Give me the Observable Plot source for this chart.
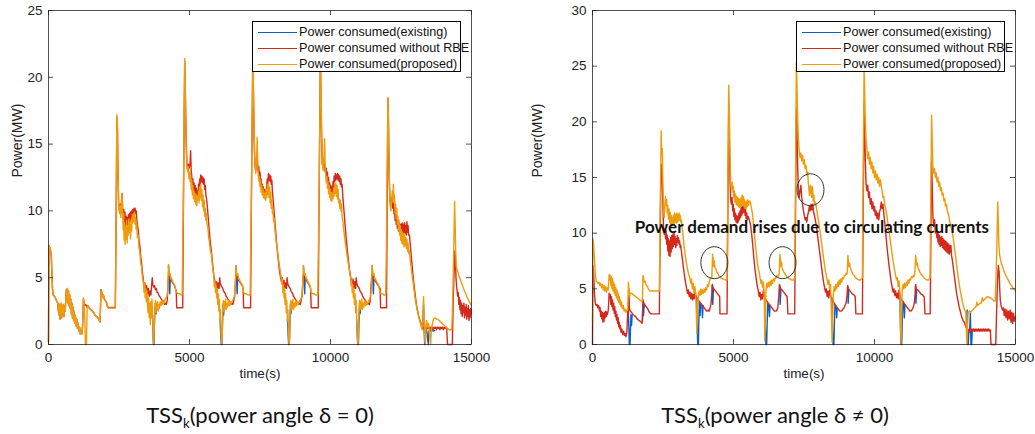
<!DOCTYPE html>
<html><head><meta charset="utf-8">
<script src="https://cdn.jsdelivr.net/npm/d3@7"></script>
<script src="https://cdn.jsdelivr.net/npm/@observablehq/plot@0.6"></script>
<style>
html,body{margin:0;padding:0;background:#fff;}
#wrap{position:relative;width:1035px;height:434px;overflow:hidden;font-family:"Liberation Sans",Arial,sans-serif;}
.panel{position:absolute;top:0;}
.legend{position:absolute;background:#fff;border:1px solid #000;box-sizing:border-box;width:209px;height:51px;font-size:12.6px;color:#111;}
.legend .row{position:absolute;left:0;width:100%;height:16px;}
.legend .sw{position:absolute;left:5px;top:8px;width:39px;height:0;border-top:1.5px solid;}
.legend .lab{position:absolute;left:46px;top:1px;line-height:14px;white-space:nowrap;}
.caption{position:absolute;top:400px;width:420px;text-align:center;font-family:Lato,"Open Sans",sans-serif;font-size:22px;color:#111;line-height:30px;white-space:nowrap;}
.caption sub{font-size:0.6em;vertical-align:-0.35em;line-height:0;}
</style></head>
<body><div id="wrap"></div>
<script>
// ---------- labels / ticks ----------
const seriesNames = ["Power consumed(existing)", "Power consumed without RBE", "Power consumed(proposed)"];
const seriesColors = ["#0b5ec9", "#d42a1c", "#ee9c0c"];
const xTicks = [0, 5000, 10000, 15000];
const leftYTicks = [0, 5, 10, 15, 20, 25];
const rightYTicks = [0, 5, 10, 15, 20, 25, 30];
const xLabel = "time(s)";
const yLabel = "Power(MW)";
const captionMain = "TSS";
const captionSub = "k";
const captionTails = ["(power angle δ = 0)", "(power angle δ ≠ 0)"];
const annotationText = [{t: 7780, v: 10.5, label: "Power demand rises due to circulating currents"}];
const annotationCircles = [{t: 4320, v: 7.35}, {t: 6740, v: 7.35}, {t: 7730, v: 13.9}];

// ---------- left panel (δ = 0) ----------
const leftProposed = [
[0,0.2],[15,7.4],[60,7.2],[100,6.6],[140,4.2],[170,3.7],[220,3.6],[260,3.4],[300,3.2],[330,3.1],[350,2.5],[365,3.0],[380,2.2],[395,3.0],[410,1.9],[425,2.9],[440,2.4],[455,3.1],[470,2.0],[490,2.8],[510,2.3],[530,3.0],[550,2.1],[570,2.8],[590,2.5],[610,3.2],[630,4.1],[650,3.4],[670,4.2],[690,3.1],[710,4.0],[730,2.9],[750,3.7],[770,2.7],[790,3.4],[810,2.3],[830,3.1],[850,2.0],[870,2.8],[890,1.8],[910,2.5],[930,1.6],[950,2.2],[975,1.4],[1000,1.9],[1025,1.2],[1050,1.6],[1075,1.0],[1100,1.3],[1130,0.8],[1160,1.1],[1190,0.8],[1210,1.5],[1240,3.5],[1265,3.0],[1285,2.0],[1310,0],[1345,0],[1370,2.8],[1400,2.9],[1450,2.7],[1500,2.6],[1550,2.5],[1600,2.4],[1650,2.2],[1700,2.1],[1750,2.0],[1800,1.8],[1830,1.7],[1860,4.0],[1890,3.9],[1920,3.5],[1950,3.7],[1980,3.4],[2010,3.3],[2050,3.2],[2080,2.9],[2110,2.8],[2370,2.8],
[2400,10],[2425,17.2],[2445,16.5],[2465,13],[2490,10.2],[2520,9.8],[2545,10.4],[2565,9.5],[2590,10.6],[2610,11.3],[2630,9.6],[2650,8.6],[2665,9.8],[2680,7.8],[2700,9.0],[2715,7.5],[2730,8.8],[2750,7.9],[2770,9.3],[2790,7.6],[2810,8.9],[2830,8.2],[2850,9.4],[2870,8.4],[2890,9.0],[2910,7.9],[2930,9.3],[2950,8.5],[2970,9.7],[2990,9.1],[3010,9.8],[3030,9.2],[3050,9.9],[3070,9.0],[3090,9.5],[3110,8.6],[3130,9.0],[3150,8.0],[3180,8.2],[3210,7.2],[3240,6.9],[3270,6.1],[3300,5.8],[3330,5.0],[3360,4.7],[3390,3.9],[3410,4.6],[3430,3.5],[3450,4.2],[3470,3.2],[3490,4.0],[3510,3.0],[3530,2.4],[3550,3.5],[3570,2.0],[3590,3.1],[3610,1.5],[3630,3.2],[3650,2.0],[3670,3.4],[3690,2.2],[3710,0.6],[3730,0],[3750,1.2],[3770,2.5],[3790,3.3],[3810,2.4],[3830,3.1],[3850,2.6],[3870,3.2],[3890,2.5],[3910,3.0],[3930,2.7],[3960,3.2],[3990,2.9],[4020,3.3],[4050,3.0],[4080,3.3],[4110,3.1],[4140,3.4],[4170,3.5],[4200,3.6],[4230,4.0],[4255,6.0],[4275,5.6],[4295,5.2],[4315,5.3],[4340,4.9],[4370,4.9],[4400,4.7],[4430,4.6],[4460,4.5],[4490,4.3],[4520,4.0],[4550,3.9],[4600,3.8],[4650,3.8],[4700,3.7],[4740,3.7],
[4790,12],[4830,21.4],[4850,19.5],[4880,15],[4910,13.2],[4940,12.9],[4960,13.3],[4980,12.4],[5000,12.9],[5020,12.2],[5040,12.8],[5060,11.6],[5080,12.3],[5100,11.2],[5120,11.9],[5140,10.9],[5160,11.5],[5180,10.7],[5200,11.3],[5220,10.5],[5240,11.2],[5260,10.4],[5280,11.0],[5300,10.8],[5320,11.5],[5340,10.6],[5360,11.8],[5380,11.0],[5400,12.0],[5420,10.8],[5440,11.6],[5460,10.3],[5480,11.2],[5500,10.0],[5520,10.8],[5540,9.6],[5560,10.2],[5580,9.3],[5600,9.8],[5620,9.0],[5650,8.8],[5680,8.0],[5710,7.6],[5740,7.0],[5770,6.8],[5800,6.2],[5830,5.6],[5860,5.2],[5880,4.3],[5900,4.8],[5920,3.9],[5940,4.5],[5960,3.5],[5980,4.2],[6000,3.0],[6020,3.8],[6040,2.5],[6060,3.4],[6080,1.8],[6100,2.6],[6120,0.8],[6140,0],[6160,0.5],[6180,2.4],[6200,3.3],[6220,2.5],[6240,3.2],[6260,2.7],[6280,3.4],[6300,2.6],[6320,3.1],[6350,2.8],[6380,3.3],[6410,2.9],[6440,3.2],[6470,3.0],[6500,3.2],[6530,3.3],[6560,3.4],[6590,3.6],[6620,4.2],[6645,5.9],[6665,5.5],[6690,5.2],[6710,5.3],[6740,4.9],[6770,4.9],[6800,4.7],[6830,4.6],[6860,4.5],[6890,4.3],[6920,3.9],[6960,3.8],[7020,3.8],[7080,3.7],[7150,3.7],
[7200,12],[7245,21.6],[7265,19.8],[7290,16],[7320,13.5],[7350,12.8],[7380,14.0],[7400,15.5],[7420,13.5],[7440,12.6],[7460,12.2],[7480,12.6],[7500,11.8],[7520,12.3],[7540,11.4],[7560,11.9],[7580,11.2],[7600,11.7],[7620,11.0],[7640,11.5],[7660,10.9],[7680,11.3],[7700,10.8],[7720,11.6],[7740,11.0],[7760,12.0],[7780,11.2],[7800,12.1],[7820,11.0],[7840,11.8],[7860,10.6],[7880,11.4],[7900,10.2],[7920,10.8],[7940,9.8],[7960,10.2],[7980,9.2],[8000,9.5],[8030,8.6],[8060,8.0],[8090,7.4],[8120,7.0],[8150,6.5],[8180,6.0],[8210,5.6],[8240,5.2],[8270,4.5],[8290,4.9],[8310,3.9],[8330,4.5],[8350,3.5],[8370,4.2],[8390,3.0],[8410,3.8],[8430,2.4],[8450,3.3],[8470,1.8],[8490,2.6],[8510,0.8],[8530,0],[8550,0.4],[8570,2.4],[8590,3.3],[8610,2.6],[8630,3.2],[8650,2.7],[8670,3.4],[8690,2.6],[8710,3.1],[8740,2.8],[8770,3.3],[8800,2.9],[8830,3.2],[8860,3.0],[8890,3.2],[8920,3.3],[8950,3.4],[8980,3.6],[9010,4.2],[9040,5.9],[9060,5.5],[9085,5.2],[9105,5.3],[9135,4.9],[9165,4.9],[9195,4.7],[9225,4.6],[9255,4.5],[9285,4.3],[9315,3.9],[9355,3.8],[9415,3.8],[9475,3.7],[9550,3.7],
[9600,12],[9640,21.6],[9660,19.8],[9685,16],[9710,13.6],[9740,13.0],[9770,14.2],[9790,15.4],[9810,13.5],[9830,12.7],[9850,12.1],[9870,12.6],[9890,11.7],[9910,12.2],[9930,11.3],[9950,11.9],[9970,11.0],[9990,11.6],[10010,10.8],[10030,11.4],[10050,10.7],[10070,11.3],[10090,10.9],[10110,11.7],[10130,11.1],[10150,12.0],[10170,11.3],[10190,12.1],[10210,11.1],[10230,11.9],[10250,10.9],[10270,11.6],[10290,10.6],[10310,10.9],[10330,10.2],[10350,10.8],[10370,10.0],[10390,10.5],[10410,9.6],[10440,9.2],[10470,8.6],[10500,8.0],[10530,7.5],[10560,7.1],[10590,6.6],[10620,6.2],[10650,5.8],[10680,5.4],[10710,5.0],[10730,4.4],[10750,4.8],[10770,3.9],[10790,4.5],[10810,3.5],[10830,4.2],[10850,3.0],[10870,3.8],[10890,2.4],[10910,3.3],[10930,1.8],[10950,0.8],[10970,0],[10990,0.4],[11010,2.4],[11030,3.3],[11050,2.6],[11070,3.2],[11090,2.7],[11110,3.4],[11130,2.6],[11150,3.1],[11180,2.8],[11210,3.3],[11240,2.9],[11270,3.2],[11300,3.0],[11330,3.2],[11360,3.3],[11390,3.4],[11420,3.6],[11450,4.2],[11475,5.9],[11495,5.5],[11520,5.2],[11540,5.3],[11570,4.9],[11600,4.9],[11630,4.7],[11660,4.6],[11690,4.5],[11720,4.3],[11750,3.9],[11790,3.8],[11850,3.8],[11900,3.7],[11960,3.7],
[11995,10],[12035,18.5],[12055,17],[12080,13],[12110,10.5],[12140,10.0],[12170,10.8],[12190,11.5],[12210,10.9],[12230,12.0],[12250,10.6],[12270,11.2],[12290,9.8],[12310,10.5],[12330,9.4],[12350,10.2],[12370,9.0],[12390,9.6],[12410,8.6],[12430,9.3],[12450,8.2],[12470,8.9],[12490,7.8],[12510,8.6],[12530,7.6],[12550,8.4],[12570,7.5],[12590,8.3],[12610,7.3],[12630,8.2],[12650,7.4],[12670,8.0],[12690,7.2],[12710,7.9],[12730,7.0],[12750,7.6],[12770,6.8],[12800,7.0],[12830,6.2],[12860,5.8],[12890,5.2],[12920,4.8],[12950,4.3],[12980,3.8],[13010,3.3],[13040,3.0],[13070,2.6],[13100,2.4],[13130,2.0],[13160,1.8],[13190,1.6],[13220,1.3],[13250,1.1],[13280,2.0],[13300,3.6],[13320,2.0],[13345,0.3],[13365,0],[13385,1.4],[13410,1.8],[13440,1.3],[13470,1.6],[13500,1.2],[13530,0.5],[13550,0],[13570,0.8],[13600,1.4],[13650,1.9],[13700,2.0],[13750,1.9],[13800,1.9],[13850,1.8],[13900,1.7],[13950,1.6],[14000,1.5],[14050,1.4],[14100,1.3],[14150,1.2],[14200,1.1],[14250,1.1],[14300,1.1],[14330,3],[14360,6],[14400,10.7],[14420,9.0],[14440,7.0],[14460,5.8],[14490,5.6],[14520,5.4],[14560,5.1],[14600,4.9],[14650,4.6],[14700,4.3],[14750,4.0],[14800,3.8],[14850,3.5],[14900,3.3],[14950,3.1],[15000,2.9]
];
const leftWithoutRBE = [
[0,0.2],[15,7.4],[60,7.2],[100,6.6],[140,4.2],[170,3.7],[220,3.6],[260,3.4],[300,3.2],[330,3.1],[350,2.5],[365,3.0],[380,2.2],[395,3.0],[410,1.9],[425,2.9],[440,2.4],[455,3.1],[470,2.0],[490,2.8],[510,2.3],[530,3.0],[550,2.1],[570,2.8],[590,2.5],[610,3.2],[630,4.1],[650,3.4],[670,4.2],[690,3.1],[710,4.0],[730,2.9],[750,3.7],[770,2.7],[790,3.4],[810,2.3],[830,3.1],[850,2.0],[870,2.8],[890,1.8],[910,2.5],[930,1.6],[950,2.2],[975,1.4],[1000,1.9],[1025,1.2],[1050,1.6],[1075,1.0],[1100,1.3],[1130,0.8],[1160,1.1],[1190,0.8],[1210,1.5],[1240,3.4],[1265,3.0],[1285,2.9],[1310,3.0],[1345,2.9],[1370,2.8],[1400,2.9],[1450,2.7],[1500,2.6],[1550,2.5],[1600,2.4],[1650,2.2],[1700,2.1],[1750,2.0],[1800,1.8],[1830,1.7],[1860,4.1],[1890,3.9],[1920,3.6],[1950,3.7],[1980,3.4],[2010,3.3],[2050,3.2],[2080,2.9],[2110,2.75],[2370,2.75],
[2400,10],[2425,17.0],[2445,16],[2465,12.5],[2490,10.3],[2520,10.0],[2545,10.5],[2565,9.8],[2590,10.8],[2610,11.3],[2630,10.2],[2650,9.4],[2670,10.1],[2690,9.2],[2710,9.9],[2730,8.9],[2750,9.6],[2770,8.7],[2790,9.5],[2810,8.8],[2830,9.7],[2850,9.0],[2870,9.8],[2890,9.2],[2910,9.9],[2930,9.4],[2950,10.0],[2970,9.6],[2990,10.1],[3010,9.8],[3030,10.2],[3050,9.9],[3070,10.2],[3090,9.8],[3110,10.0],[3130,9.4],[3150,9.0],[3180,8.6],[3210,7.8],[3240,7.4],[3270,6.6],[3300,6.1],[3330,5.4],[3360,4.9],[3390,4.3],[3420,4.6],[3450,4.0],[3480,4.4],[3510,3.8],[3540,4.2],[3570,3.6],[3600,4.0],[3630,3.7],[3660,4.5],[3680,5.0],[3700,4.5],[3730,4.3],[3760,4.4],[3790,4.1],[3820,4.2],[3850,3.9],[3880,3.9],[3910,3.7],[3940,3.6],[3970,3.5],[4000,3.4],[4030,3.3],[4060,3.2],[4090,3.1],[4120,3.0],[4150,3.1],[4180,3.0],[4210,3.3],[4240,4.5],[4260,5.4],[4290,5.0],[4320,5.0],[4350,4.8],[4380,4.7],[4410,4.6],[4440,4.5],[4470,4.4],[4500,4.2],[4530,4.0],[4545,2.75],[4760,2.75],
[4790,12],[4830,21.2],[4850,19],[4880,15.5],[4910,13.5],[4940,13.0],[4960,13.5],[4990,13.2],[5020,13.6],[5040,14.5],[5060,13.0],[5080,12.6],[5100,11.8],[5120,12.4],[5140,11.5],[5160,12.1],[5180,11.2],[5200,11.9],[5220,11.0],[5240,11.7],[5260,10.9],[5280,11.5],[5300,11.2],[5320,12.0],[5340,11.6],[5360,12.4],[5380,12.0],[5400,12.7],[5420,12.2],[5440,12.6],[5460,12.1],[5480,12.5],[5500,12.0],[5520,12.4],[5540,11.6],[5560,11.9],[5580,11.2],[5600,11.0],[5630,10.4],[5660,9.6],[5690,8.8],[5720,8.0],[5750,7.4],[5780,6.9],[5810,6.2],[5840,5.6],[5870,5.0],[5900,4.8],[5930,4.3],[5960,4.7],[5990,4.1],[6020,4.6],[6050,4.2],[6070,5.0],[6090,4.6],[6120,4.4],[6150,4.3],[6180,4.2],[6210,4.0],[6240,3.9],[6270,3.8],[6300,3.6],[6330,3.5],[6360,3.4],[6390,3.3],[6420,3.2],[6450,3.1],[6480,3.0],[6510,3.1],[6540,3.0],[6570,3.3],[6600,3.6],[6625,4.5],[6645,5.3],[6665,5.0],[6690,5.0],[6720,4.9],[6750,4.8],[6780,4.7],[6810,4.6],[6840,4.5],[6870,4.4],[6900,4.2],[6920,2.75],[7165,2.75],
[7200,12],[7245,21.3],[7265,19],[7290,15.5],[7320,13.5],[7350,13.0],[7380,13.8],[7400,14.2],[7420,13.2],[7440,12.9],[7460,13.3],[7480,12.5],[7500,12.9],[7520,12.0],[7540,12.4],[7560,11.6],[7580,12.0],[7600,11.3],[7620,11.8],[7640,11.1],[7660,11.6],[7680,11.0],[7700,11.5],[7720,11.2],[7740,12.0],[7760,12.4],[7780,12.0],[7800,12.8],[7820,12.3],[7840,12.7],[7860,12.2],[7880,12.6],[7900,12.0],[7920,12.3],[7940,11.4],[7960,11.0],[7990,10.2],[8020,9.4],[8050,8.6],[8080,7.8],[8110,7.1],[8140,6.5],[8170,5.9],[8200,5.4],[8230,5.0],[8260,4.7],[8290,5.0],[8320,4.3],[8350,4.8],[8380,4.2],[8410,4.6],[8440,4.2],[8460,5.0],[8480,4.6],[8510,4.4],[8540,4.3],[8570,4.2],[8600,4.0],[8630,3.9],[8660,3.8],[8690,3.6],[8720,3.5],[8750,3.4],[8780,3.3],[8810,3.2],[8840,3.1],[8870,3.0],[8900,3.1],[8930,3.0],[8960,3.3],[8990,3.6],[9015,4.5],[9040,5.3],[9060,5.0],[9085,5.0],[9115,4.9],[9145,4.8],[9175,4.7],[9205,4.6],[9235,4.5],[9265,4.4],[9295,4.2],[9315,2.75],[9565,2.75],
[9600,12],[9640,21.3],[9660,19],[9685,15.5],[9710,13.5],[9740,13.2],[9770,13.9],[9790,13.4],[9810,13.0],[9830,12.8],[9850,13.2],[9870,12.4],[9890,12.9],[9910,12.0],[9930,12.5],[9950,11.6],[9970,12.1],[9990,11.3],[10010,11.9],[10030,11.2],[10050,11.8],[10070,11.4],[10090,12.2],[10110,11.8],[10130,12.6],[10150,12.2],[10170,12.8],[10190,12.3],[10210,12.7],[10230,12.4],[10250,12.8],[10270,12.3],[10290,12.7],[10310,12.2],[10330,12.6],[10350,12.0],[10370,12.4],[10390,11.8],[10410,12.0],[10440,11.0],[10470,10.2],[10500,9.4],[10530,8.6],[10560,7.9],[10590,7.2],[10620,6.6],[10650,6.0],[10680,5.5],[10710,5.1],[10740,4.8],[10770,4.4],[10800,4.9],[10830,4.2],[10860,4.7],[10890,4.2],[10910,5.0],[10930,4.6],[10960,4.4],[10990,4.3],[11020,4.2],[11050,4.0],[11080,3.9],[11110,3.8],[11140,3.6],[11170,3.5],[11200,3.4],[11230,3.3],[11260,3.2],[11290,3.1],[11320,3.0],[11350,3.1],[11380,3.0],[11410,3.3],[11440,4.5],[11470,5.3],[11490,5.0],[11515,5.0],[11545,4.9],[11575,4.8],[11605,4.7],[11635,4.6],[11665,4.5],[11695,4.4],[11725,4.3],[11760,4.2],[11775,2.75],[11985,2.75],
[12035,18.4],[12055,16.5],[12080,12.5],[12110,10.8],[12140,10.4],[12170,11.0],[12190,10.5],[12210,10.2],[12230,10.6],[12250,9.8],[12270,10.2],[12290,9.3],[12310,9.9],[12330,9.0],[12350,9.6],[12370,8.7],[12390,9.3],[12410,8.5],[12430,9.1],[12450,8.4],[12470,9.0],[12490,8.3],[12510,9.0],[12530,8.4],[12550,9.1],[12570,8.3],[12590,9.0],[12610,8.4],[12630,9.1],[12650,8.3],[12670,8.9],[12690,8.2],[12710,9.2],[12730,8.4],[12750,8.9],[12770,8.2],[12800,8.2],[12830,7.4],[12860,6.7],[12890,6.0],[12920,5.3],[12950,4.7],[12980,4.1],[13010,3.6],[13040,3.1],[13070,2.7],[13100,2.4],[13130,2.1],[13160,1.9],[13190,1.7],[13220,1.5],[13250,1.3],[13280,1.2],[13310,1.3],[13340,1.1],[13370,1.3],[13400,1.1],[13430,1.3],[13460,1.2],[13490,1.3],[13520,1.1],[13550,1.3],[13580,1.2],[13610,1.3],[13640,1.1],[13670,1.3],[13700,1.2],[13730,1.3],[13760,1.1],[13790,1.3],[13820,1.2],[13850,1.3],[13880,1.1],[13910,1.3],[13940,1.2],[13970,1.3],[14000,1.1],[14030,1.3],[14060,1.2],[14090,1.3],[14120,1.2],[14150,0],[14320,0],[14360,4],[14410,7.0],[14430,6.5],[14450,5.0],[14470,4.4],[14490,4.0],[14510,3.6],[14530,3.9],[14550,3.0],[14570,3.5],[14590,2.6],[14610,3.3],[14630,2.3],[14650,3.1],[14670,2.1],[14690,2.9],[14710,2.4],[14730,3.1],[14750,2.0],[14770,2.8],[14790,2.2],[14810,3.0],[14830,1.9],[14850,2.7],[14870,2.1],[14890,2.9],[14910,1.8],[14930,2.6],[14950,2.0],[14970,2.7],[15000,2.3]
];
const leftExisting = [
[3690,2.2],[3705,1.0],[3720,0],[3740,0],[3755,1.5],[3775,2.6],[3795,3.1],[3815,2.3],[3835,3.0],[3850,null],
[4255,5.9],[4280,5.0],[4300,3.8],[4320,5.1],[4345,4.9],[4360,null],
[6085,1.9],[6105,0.8],[6125,0],[6150,0],[6170,1.6],[6190,3.0],[6210,2.2],[6230,3.1],[6245,null],
[6645,5.9],[6670,4.9],[6690,3.8],[6710,5.1],[6735,4.9],[6750,null],
[8475,1.9],[8495,0.8],[8515,0],[8540,0],[8560,1.6],[8580,3.0],[8600,2.3],[8620,3.1],[8635,null],
[9040,5.9],[9065,4.9],[9085,3.8],[9105,5.1],[9130,4.9],[9145,null],
[10925,1.9],[10945,0.8],[10965,0],[10990,0],[11010,1.6],[11030,3.0],[11050,2.3],[11070,3.1],[11085,null],
[11475,5.9],[11500,4.9],[11520,3.8],[11540,5.1],[11565,4.9],[11580,null],
[13250,1.2],[13280,2.2],[13300,3.0],[13320,1.0],[13340,0],[13360,0.8],[13390,1.2],[13420,0.9],[13450,0.3],[13470,0],[13490,1.0],[13520,1.1],[13560,1.0],[13600,1.1],[13650,1.0],[13700,1.05]
];

// ---------- right panel (δ ≠ 0) ----------
const rightProposed = [
[0,2.1],[15,9.5],[40,9.0],[70,7.6],[100,6.3],[130,5.7],[170,5.6],[200,5.5],[230,5.6],[260,5.3],[290,5.5],[320,5.1],[350,5.4],[380,4.9],[410,5.3],[440,4.8],[470,5.2],[500,4.7],[530,5.1],[560,4.9],[590,6.3],[610,5.8],[630,6.2],[650,5.3],[670,6.1],[690,5.0],[710,5.9],[730,4.8],[750,5.6],[770,4.6],[790,5.4],[810,4.4],[830,5.1],[850,4.2],[870,4.9],[890,4.0],[910,4.6],[930,3.8],[950,4.3],[970,3.6],[990,4.0],[1010,3.4],[1030,3.8],[1060,3.2],[1090,3.5],[1120,3.0],[1150,3.2],[1180,2.9],[1210,3.0],[1250,3.2],[1275,5.6],[1295,4.9],[1315,4.3],[1340,4.6],[1380,4.6],[1430,4.5],[1480,4.4],[1530,4.3],[1580,4.2],[1630,4.1],[1680,4.0],[1730,3.9],[1770,3.9],[1790,6.2],[1810,6.0],[1830,5.6],[1860,5.7],[1890,5.4],[1920,5.3],[1950,5.2],[1980,5.0],[2010,4.9],[2040,4.8],[2370,4.8],
[2400,12],[2435,19.2],[2455,17.0],[2475,17.6],[2495,14.5],[2520,12.0],[2545,11.4],[2570,12.6],[2590,13.3],[2610,12.5],[2630,13.0],[2650,11.8],[2670,12.5],[2690,11.3],[2710,12.2],[2730,11.0],[2750,11.9],[2770,10.8],[2790,11.6],[2810,10.6],[2830,11.4],[2850,10.7],[2870,11.6],[2890,10.8],[2910,11.8],[2930,11.0],[2950,11.7],[2970,10.9],[2990,11.8],[3010,11.0],[3030,11.7],[3050,11.1],[3070,11.8],[3090,11.2],[3110,11.6],[3130,11.0],[3150,11.2],[3200,10.0],[3250,8.8],[3300,7.8],[3350,7.0],[3400,6.4],[3450,6.0],[3480,5.5],[3510,5.9],[3540,5.0],[3570,5.5],[3600,4.6],[3630,5.2],[3660,4.4],[3680,3.0],[3700,1.0],[3720,2.6],[3750,4.3],[3780,4.8],[3810,4.4],[3840,5.0],[3870,4.5],[3900,4.9],[3930,4.6],[3960,5.0],[3990,4.7],[4020,5.1],[4050,4.9],[4080,5.4],[4110,5.2],[4140,5.6],[4170,5.9],[4200,6.0],[4230,6.0],[4260,8.1],[4280,7.6],[4300,7.0],[4320,7.5],[4340,6.9],[4370,6.8],[4400,6.5],[4430,6.5],[4460,6.3],[4500,6.1],[4550,6.0],[4620,5.9],[4700,5.8],[4770,5.8],
[4800,14],[4830,23.3],[4850,21.5],[4875,17.0],[4900,14.5],[4925,14.0],[4950,14.6],[4970,13.7],[4990,14.2],[5010,13.2],[5030,13.8],[5050,12.8],[5070,13.5],[5090,12.6],[5110,13.3],[5130,12.5],[5150,13.2],[5170,12.4],[5190,13.1],[5210,12.3],[5230,13.0],[5250,12.4],[5270,13.2],[5290,12.5],[5310,13.4],[5330,12.6],[5350,13.3],[5370,12.4],[5390,13.0],[5410,12.2],[5430,12.8],[5450,12.2],[5470,12.9],[5490,12.4],[5510,13.0],[5530,12.5],[5550,12.8],[5580,12.9],[5610,12.6],[5640,12.2],[5670,11.8],[5700,11.0],[5730,10.2],[5760,9.4],[5790,8.6],[5820,7.9],[5850,7.3],[5880,6.8],[5910,6.5],[5940,6.0],[5970,5.5],[6000,5.8],[6030,5.1],[6060,5.6],[6090,4.5],[6110,0.3],[6130,2.0],[6150,4.8],[6180,5.5],[6210,5.1],[6240,5.6],[6270,5.2],[6300,5.7],[6330,5.3],[6360,5.8],[6390,5.5],[6420,5.9],[6450,5.7],[6480,6.0],[6510,6.0],[6540,6.2],[6570,6.1],[6600,6.2],[6620,6.4],[6645,8.1],[6665,7.6],[6685,7.0],[6705,7.4],[6725,6.8],[6755,6.7],[6785,6.5],[6815,6.4],[6845,6.3],[6880,6.1],[6920,6.0],[6980,5.9],[7060,5.8],[7140,5.8],[7170,6.0],
[7200,15],[7228,25.3],[7245,24],[7270,21],[7300,18.5],[7330,17.4],[7360,16.8],[7390,17.2],[7420,16.5],[7450,17.0],[7480,16.2],[7510,16.6],[7540,15.8],[7570,16.1],[7600,15.2],[7630,15.5],[7650,14.6],[7670,14.1],[7690,13.4],[7710,13.9],[7730,14.3],[7750,13.6],[7770,13.2],[7790,14.2],[7810,13.8],[7830,12.9],[7850,13.4],[7870,12.6],[7900,12.8],[7930,12.4],[7960,12.0],[7990,11.5],[8020,11.0],[8050,10.5],[8080,10.0],[8110,9.4],[8140,8.8],[8170,8.2],[8200,7.7],[8230,7.1],[8260,6.6],[8290,6.2],[8320,5.8],[8350,5.4],[8380,5.8],[8410,5.0],[8440,5.4],[8470,3.0],[8495,0.2],[8515,2.0],[8540,4.5],[8570,5.2],[8600,4.8],[8630,5.4],[8660,5.0],[8690,5.6],[8720,5.2],[8750,5.8],[8780,5.4],[8810,5.9],[8840,5.6],[8870,6.0],[8900,5.9],[8930,6.2],[8960,6.2],[8990,6.4],[9020,6.3],[9035,6.5],[9055,8.0],[9075,7.4],[9095,7.0],[9115,7.3],[9140,6.9],[9170,6.7],[9200,6.5],[9240,6.3],[9280,6.2],[9320,6.0],[9380,5.9],[9440,5.8],[9500,5.8],[9570,6.0],
[9600,16],[9630,24.6],[9650,23],[9675,20],[9700,18.5],[9730,17.6],[9760,16.7],[9790,17.3],[9820,16.2],[9850,16.8],[9880,15.8],[9910,16.4],[9940,15.4],[9970,16.0],[10000,15.0],[10030,15.6],[10060,14.8],[10090,15.3],[10120,14.5],[10150,15.0],[10180,14.2],[10210,14.8],[10240,14.2],[10270,13.8],[10300,13.2],[10330,13.3],[10360,12.6],[10390,12.3],[10420,11.9],[10450,11.4],[10480,10.8],[10510,10.2],[10540,9.8],[10570,9.2],[10600,8.6],[10630,8.0],[10660,7.5],[10690,7.0],[10720,6.6],[10750,6.2],[10780,5.8],[10810,6.0],[10840,5.2],[10870,5.7],[10900,4.8],[10920,2.5],[10940,0.1],[10960,2.2],[10980,4.8],[11010,5.4],[11040,5.0],[11070,5.5],[11100,5.1],[11130,5.6],[11160,5.3],[11190,5.8],[11220,5.5],[11250,5.9],[11280,5.8],[11310,6.1],[11340,6.0],[11370,6.2],[11400,6.1],[11430,6.4],[11460,8.0],[11480,7.5],[11500,7.1],[11520,7.3],[11545,6.9],[11575,6.7],[11610,6.5],[11650,6.3],[11700,6.2],[11750,6.0],[11800,5.9],[11860,5.8],[11920,5.8],[11970,6.0],
[12000,14],[12025,20.6],[12045,18.5],[12070,16.0],[12100,15.4],[12130,15.8],[12160,15.0],[12190,15.4],[12220,14.6],[12250,15.0],[12280,14.2],[12310,14.6],[12340,13.8],[12370,14.1],[12400,13.4],[12430,13.6],[12460,12.9],[12490,13.1],[12520,12.4],[12550,12.6],[12580,12.0],[12610,11.8],[12640,11.5],[12670,11.0],[12700,10.8],[12730,10.4],[12760,10.1],[12790,9.6],[12820,9.0],[12850,8.4],[12880,7.8],[12910,7.2],[12940,6.6],[12970,6.0],[13000,5.5],[13030,5.0],[13060,4.6],[13090,4.2],[13120,3.8],[13150,3.5],[13180,3.2],[13210,3.0],[13240,2.8],[13260,1.0],[13280,0],[13300,1.8],[13320,2.9],[13360,3.0],[13400,2.9],[13440,3.0],[13480,3.1],[13520,3.2],[13560,3.3],[13600,3.4],[13630,3.8],[13660,3.5],[13700,3.6],[13740,3.7],[13780,3.7],[13820,4.2],[13850,3.9],[13880,4.0],[13920,4.1],[13960,4.2],[14000,4.3],[14040,4.3],[14080,4.2],[14120,4.2],[14160,4.1],[14200,4.0],[14240,3.9],[14280,3.9],[14310,6],[14340,9.0],[14370,12.8],[14390,11.0],[14410,9.0],[14440,8.0],[14470,7.6],[14500,7.3],[14540,7.0],[14580,6.7],[14620,6.4],[14660,6.2],[14700,6.0],[14740,5.8],[14780,5.6],[14820,5.4],[14860,5.3],[14900,5.1],[14950,5.0],[15000,4.8]
];
const rightWithoutRBE = [
[0,0],[15,7.1],[40,6.4],[70,4.5],[100,3.7],[130,3.5],[160,3.6],[190,3.3],[220,3.5],[250,3.0],[270,3.3],[290,2.5],[310,3.0],[330,2.3],[350,2.9],[370,2.0],[390,2.8],[410,2.1],[430,2.9],[450,2.4],[470,3.0],[490,2.5],[510,2.9],[530,2.7],[560,3.1],[590,4.6],[610,4.2],[630,4.5],[650,3.6],[670,4.3],[690,3.4],[710,4.0],[730,3.1],[750,3.7],[770,2.8],[790,3.4],[810,2.5],[830,3.0],[850,2.2],[870,2.7],[890,1.9],[910,2.4],[930,1.6],[950,2.0],[970,1.4],[990,1.7],[1010,1.1],[1040,1.4],[1070,0.9],[1100,1.2],[1130,0.8],[1160,1.0],[1190,0.7],[1220,1.2],[1250,3.0],[1270,2.6],[1290,5.0],[1310,3.2],[1340,3.0],[1380,2.9],[1430,2.7],[1480,2.6],[1530,2.5],[1580,2.3],[1630,2.2],[1680,2.1],[1730,2.0],[1760,1.9],[1790,4.0],[1810,3.8],[1840,3.6],[1870,3.5],[1900,3.4],[1930,3.3],[1960,3.2],[1990,3.0],[2020,2.9],[2050,2.8],[2080,2.75],[2370,2.75],
[2400,10],[2435,16.2],[2455,14.5],[2475,15.0],[2495,12.5],[2520,10.5],[2545,9.9],[2570,10.4],[2590,9.5],[2610,10.2],[2630,9.0],[2650,9.8],[2670,8.4],[2690,9.5],[2710,8.0],[2730,9.3],[2750,7.9],[2770,9.6],[2790,8.3],[2810,9.8],[2830,8.6],[2850,9.9],[2870,8.8],[2890,10.0],[2910,9.0],[2930,9.7],[2950,8.7],[2970,9.5],[2990,8.9],[3010,9.8],[3030,9.2],[3050,9.6],[3070,9.0],[3090,9.3],[3110,8.7],[3130,8.9],[3160,8.2],[3190,7.6],[3220,7.0],[3250,6.4],[3280,5.9],[3310,5.4],[3340,5.0],[3370,4.6],[3400,4.9],[3430,4.3],[3460,4.7],[3490,4.1],[3520,4.6],[3550,4.0],[3580,4.5],[3610,4.1],[3640,4.9],[3660,4.5],[3690,4.2],[3720,4.1],[3750,4.0],[3780,3.9],[3810,3.8],[3840,3.7],[3870,3.6],[3900,3.5],[3930,3.4],[3960,3.3],[3990,3.2],[4020,3.1],[4050,3.0],[4080,3.0],[4110,3.1],[4140,3.0],[4170,3.3],[4200,3.6],[4230,4.5],[4250,5.4],[4275,5.1],[4300,5.0],[4330,4.9],[4360,4.8],[4390,4.7],[4420,4.6],[4450,4.5],[4480,4.4],[4510,4.3],[4520,2.75],[4770,2.75],
[4800,12],[4830,21.2],[4850,19],[4875,15],[4900,13.0],[4925,12.6],[4950,13.2],[4970,12.0],[4990,12.6],[5010,11.5],[5030,12.2],[5050,11.2],[5070,11.8],[5090,11.0],[5110,11.6],[5130,10.9],[5150,11.5],[5170,11.0],[5190,11.8],[5210,11.2],[5230,12.0],[5250,11.4],[5270,12.3],[5290,11.6],[5310,12.4],[5330,11.8],[5350,12.5],[5370,11.9],[5390,12.4],[5410,11.6],[5430,12.1],[5450,11.3],[5470,11.8],[5490,11.2],[5520,11.5],[5550,11.3],[5600,10.8],[5640,10.0],[5680,9.0],[5720,7.8],[5760,6.8],[5800,6.0],[5840,5.3],[5880,4.8],[5910,4.3],[5940,4.7],[5970,4.0],[6000,4.5],[6030,4.1],[6060,4.9],[6090,4.4],[6120,4.1],[6150,4.0],[6180,3.9],[6210,3.8],[6240,3.7],[6270,3.6],[6300,3.5],[6330,3.4],[6360,3.3],[6390,3.2],[6420,3.1],[6450,3.0],[6480,3.0],[6510,3.0],[6540,3.1],[6570,3.3],[6600,4.2],[6630,5.4],[6660,5.1],[6690,4.9],[6720,4.9],[6750,4.8],[6780,4.7],[6810,4.6],[6840,4.5],[6870,4.4],[6900,4.3],[6930,2.75],[7170,2.75],
[7200,12],[7230,21.3],[7250,19.5],[7275,16],[7300,14.0],[7330,13.2],[7360,13.8],[7390,14.3],[7420,13.2],[7450,12.6],[7480,12.0],[7510,11.6],[7540,11.2],[7570,11.4],[7600,11.0],[7630,11.6],[7660,11.9],[7690,12.4],[7720,12.0],[7750,12.6],[7780,12.1],[7810,12.6],[7840,11.9],[7870,11.6],[7900,11.2],[7930,10.8],[7960,10.2],[7990,9.6],[8020,9.0],[8050,8.4],[8080,7.8],[8110,7.2],[8140,6.6],[8170,6.0],[8200,5.5],[8230,5.1],[8260,4.7],[8290,5.0],[8320,4.3],[8350,4.8],[8380,4.2],[8410,4.9],[8440,4.4],[8470,4.1],[8500,4.0],[8530,3.8],[8560,3.8],[8590,3.6],[8620,3.5],[8650,3.4],[8680,3.3],[8710,3.2],[8740,3.1],[8770,3.0],[8800,3.0],[8830,3.0],[8860,3.1],[8890,3.2],[8920,3.3],[8950,3.5],[8990,3.7],[9025,4.4],[9050,5.3],[9075,5.0],[9105,4.9],[9135,4.8],[9165,4.7],[9195,4.6],[9225,4.5],[9255,4.5],[9285,4.4],[9315,4.3],[9340,2.75],[9570,2.75],
[9600,12],[9630,21.4],[9650,19.5],[9675,16.5],[9700,14.5],[9730,13.8],[9760,14.3],[9790,13.2],[9820,13.7],[9850,12.6],[9880,13.1],[9910,12.2],[9940,12.8],[9970,12.0],[10000,12.4],[10030,11.6],[10060,12.0],[10090,11.3],[10120,11.8],[10150,11.2],[10180,11.9],[10210,12.2],[10240,12.8],[10270,12.2],[10300,12.6],[10330,11.8],[10360,11.0],[10390,10.2],[10420,9.4],[10450,8.6],[10480,7.9],[10510,7.2],[10540,6.6],[10570,6.0],[10600,5.5],[10630,5.1],[10660,4.7],[10690,5.0],[10720,4.4],[10750,4.8],[10780,4.2],[10810,4.6],[10840,4.1],[10870,4.9],[10900,4.4],[10930,4.1],[10960,4.0],[10990,3.9],[11020,3.8],[11050,3.7],[11080,3.6],[11110,3.5],[11140,3.4],[11170,3.3],[11200,3.2],[11230,3.1],[11260,3.0],[11290,3.0],[11320,3.1],[11350,3.2],[11380,3.4],[11410,3.7],[11440,4.5],[11460,5.4],[11480,5.0],[11510,4.9],[11540,4.9],[11570,4.8],[11600,4.7],[11630,4.6],[11660,4.5],[11690,4.5],[11720,4.4],[11760,4.3],[11790,2.75],[11975,2.75],
[12000,10],[12025,16.5],[12045,14.5],[12070,11.5],[12100,10.6],[12130,11.2],[12160,10.0],[12190,10.6],[12210,9.6],[12230,10.2],[12250,9.2],[12270,9.9],[12290,9.0],[12310,9.8],[12330,8.8],[12350,9.6],[12370,8.9],[12390,9.7],[12410,8.7],[12430,9.5],[12450,8.6],[12470,9.4],[12490,8.5],[12510,9.3],[12530,8.4],[12550,9.2],[12570,8.3],[12590,9.1],[12610,8.2],[12630,9.0],[12650,8.1],[12670,8.9],[12690,8.3],[12710,8.9],[12730,8.0],[12760,7.6],[12790,7.0],[12820,6.4],[12850,5.8],[12880,5.2],[12910,4.6],[12940,4.2],[12970,3.8],[13000,3.4],[13030,3.1],[13060,2.8],[13090,2.5],[13120,2.3],[13150,2.1],[13180,2.0],[13210,1.8],[13240,1.6],[13270,1.5],[13300,1.4],[13330,1.3],[13360,1.1],[13390,1.4],[13420,1.2],[13450,1.4],[13480,1.2],[13510,1.4],[13540,1.2],[13570,1.4],[13600,1.2],[13630,1.4],[13660,1.2],[13690,1.4],[13720,1.2],[13750,1.4],[13780,1.2],[13810,1.4],[13840,1.2],[13870,1.4],[13900,1.2],[13930,1.4],[13960,1.2],[13990,1.4],[14020,1.2],[14050,1.4],[14080,1.2],[14110,1.3],[14130,0],[14300,0],[14330,3],[14360,5.5],[14390,7.1],[14420,6.5],[14440,5.0],[14460,4.0],[14480,3.6],[14510,3.3],[14540,3.1],[14570,3.3],[14600,2.6],[14630,3.2],[14660,2.4],[14690,3.1],[14720,2.2],[14750,3.0],[14780,2.3],[14810,3.1],[14840,2.0],[14870,2.9],[14900,1.9],[14930,2.8],[14960,2.1],[15000,2.5]
];
const rightExisting = [
[1250,2.0],[1270,2.9],[1290,1.5],[1305,0],[1330,0],[1345,1.3],[1365,2.7],[1385,1.7],[1405,2.6],[1420,null],
[1775,2.1],[1790,4.0],[1810,2.6],[1830,3.6],[1850,3.4],[1860,null],
[3700,4.2],[3715,1.5],[3730,0],[3755,0],[3770,2.0],[3790,3.8],[3815,2.6],[3835,3.7],[3880,3.5],[3900,2.4],[3920,3.5],[3935,null],
[4245,5.3],[4265,3.6],[4290,5.0],[4305,null],
[6110,4.2],[6130,1.5],[6150,0],[6175,0],[6195,2.0],[6215,3.7],[6245,3.6],[6275,2.5],[6295,3.5],[6310,null],
[6635,5.3],[6655,3.6],[6680,5.0],[6695,null],
[8490,4.2],[8510,1.5],[8530,0],[8560,0],[8580,2.0],[8600,3.6],[8640,3.4],[8660,2.4],[8680,3.3],[8695,null],
[9045,5.2],[9065,3.7],[9090,4.9],[9105,null],
[10900,4.4],[10920,1.5],[10940,0],[10965,0],[10985,2.0],[11005,3.9],[11040,3.7],[11060,2.4],[11080,3.6],[11095,null],
[11450,5.2],[11470,3.7],[11495,4.9],[11510,null],
[13230,1.6],[13260,1.5],[13285,3.1],[13300,0],[13325,0],[13345,1.3],[13375,1.2],[13400,2.9],[13420,0],[13445,0],[13465,1.2],[13500,1.3],[13550,1.2]
];

// ---------- drawing ----------
const H = 390, MT = 10, MB = 46;
const ellipseSymbol = {draw(ctx) {
  const rx = 13.5, ry = 16, k = 0.5523;
  ctx.moveTo(rx, 0);
  ctx.bezierCurveTo(rx, ry * k, rx * k, ry, 0, ry);
  ctx.bezierCurveTo(-rx * k, ry, -rx, ry * k, -rx, 0);
  ctx.bezierCurveTo(-rx, -ry * k, -rx * k, -ry, 0, -ry);
  ctx.bezierCurveTo(rx * k, -ry, rx, -ry * k, rx, 0);
  ctx.closePath();
}};

function makePanel({width, marginLeft, marginRight, ymax, yTicks, series, annotate}) {
  const innerW = width - marginLeft - marginRight;
  const innerH = H - MT - MB;
  const ink = "#262626";
  const marks = [
    ...series.map((s, i) => Plot.line(s, {x: d => d[0], y: d => d[1], stroke: seriesColors[i], strokeWidth: 1.4})),
    Plot.frame({stroke: ink, strokeWidth: 0.8}),
    Plot.tickY(yTicks, {y: d => d, insetRight: innerW - 5, stroke: ink, strokeWidth: 0.8}),
    Plot.tickY(yTicks, {y: d => d, insetLeft: innerW - 5, stroke: ink, strokeWidth: 0.8}),
    Plot.tickX(xTicks, {x: d => d, insetTop: innerH - 5, stroke: ink, strokeWidth: 0.8}),
    Plot.tickX(xTicks, {x: d => d, insetBottom: innerH - 5, stroke: ink, strokeWidth: 0.8}),
    Plot.axisY({ticks: yTicks, tickSize: 0, tickPadding: 6, label: null, fontSize: 13.5, fill: "#222"}),
    Plot.axisX({ticks: xTicks, tickSize: 0, tickPadding: 8, label: null, fontSize: 13.5, fill: "#222", tickFormat: d => String(d)}),
    Plot.text([yLabel], {text: d => d, frameAnchor: "left", dx: -(marginLeft - 17), rotate: -90, fontSize: 14, fill: "#222"}),
    Plot.text([xLabel], {text: d => d, frameAnchor: "bottom", dy: 33, fontSize: 13.5, fill: "#222"})
  ];
  if (annotate) {
    marks.push(Plot.dot(annotationCircles, {x: "t", y: "v", symbol: ellipseSymbol, r: 15, stroke: "#333", strokeWidth: 1, fill: "none"}));
    marks.push(Plot.text(annotationText, {x: "t", y: "v", text: "label", fontSize: 17, fontWeight: "bold", fontFamily: "Lato, 'Open Sans', sans-serif", fill: "#111"}));
  }
  return Plot.plot({
    width, height: H, marginLeft, marginRight, marginTop: MT, marginBottom: MB,
    x: {domain: [0, 15000], axis: null},
    y: {domain: [0, ymax], axis: null},
    style: {fontFamily: "'Liberation Sans', Arial, sans-serif", background: "white", overflow: "visible"},
    marks
  });
}

function makeLegend(left, top) {
  const lg = document.createElement("div");
  lg.className = "legend";
  lg.style.left = left + "px";
  lg.style.top = top + "px";
  seriesNames.forEach((name, i) => {
    const row = document.createElement("div");
    row.className = "row";
    row.style.top = (2 + i * 16) + "px";
    const sw = document.createElement("span");
    sw.className = "sw";
    sw.style.borderTopColor = seriesColors[i];
    const lab = document.createElement("span");
    lab.className = "lab";
    lab.textContent = name;
    row.appendChild(sw); row.appendChild(lab);
    lg.appendChild(row);
  });
  return lg;
}

function makeCaption(centerX, tail) {
  const c = document.createElement("div");
  c.className = "caption";
  c.style.left = (centerX - 210) + "px";
  c.appendChild(document.createTextNode(captionMain));
  const sub = document.createElement("sub");
  sub.textContent = captionSub;
  c.appendChild(sub);
  c.appendChild(document.createTextNode(tail));
  return c;
}

const wrap = document.getElementById("wrap");
const p1 = document.createElement("div"); p1.className = "panel"; p1.style.left = "0px";
p1.appendChild(makePanel({width: 520, marginLeft: 48, marginRight: 49, ymax: 25, yTicks: leftYTicks,
  series: [leftExisting, leftWithoutRBE, leftProposed], annotate: false}));
const p2 = document.createElement("div"); p2.className = "panel"; p2.style.left = "520px";
p2.appendChild(makePanel({width: 515, marginLeft: 72, marginRight: 20, ymax: 30, yTicks: rightYTicks,
  series: [rightExisting, rightWithoutRBE, rightProposed], annotate: true}));
wrap.appendChild(p1);
wrap.appendChild(p2);
wrap.appendChild(makeLegend(252, 21));
wrap.appendChild(makeLegend(796, 21));
wrap.appendChild(makeCaption(260, captionTails[0]));
wrap.appendChild(makeCaption(775, captionTails[1]));
</script>
</body></html>
